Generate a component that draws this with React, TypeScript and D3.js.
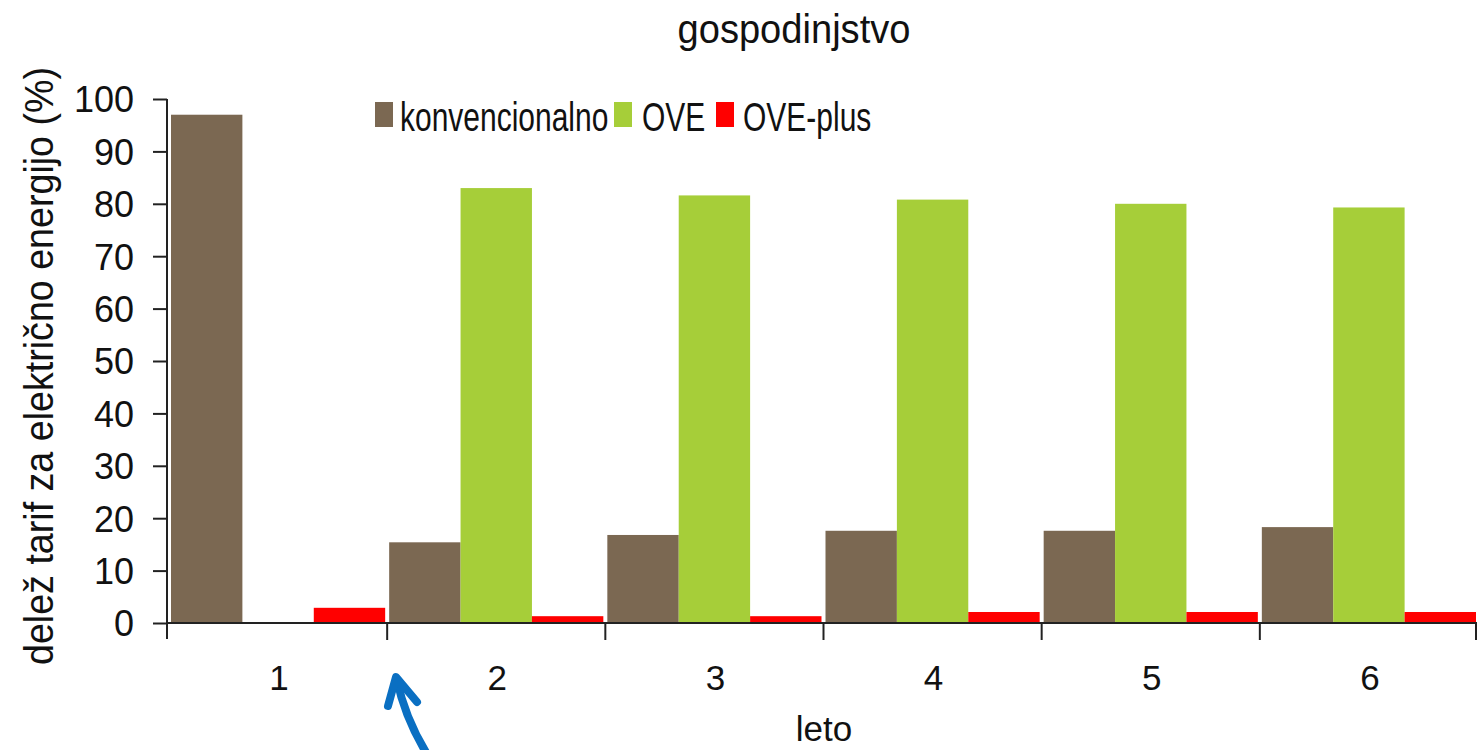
import React, { useEffect, useRef } from 'react';
import * as d3 from 'd3';

// data
const categories = ['1', '2', '3', '4', '5', '6'];
const konvencionalno = [97, 15.4, 16.8, 17.6, 17.6, 18.3];
const ove = [0, 83, 81.6, 80.8, 80.0, 79.3];
const ovePlus = [2.9, 1.3, 1.3, 2.1, 2.1, 2.1];
const seriesNames = ['konvencionalno', 'OVE', 'OVE-plus'];
const seriesColors = ['#7B6852', '#A6CE39', '#FF0000'];
const yTicks = [0, 10, 20, 30, 40, 50, 60, 70, 80, 90, 100];

const W = 1478;
const H = 750;
const FONT = '"Liberation Sans", Arial, sans-serif';

const App = () => {
  const ref = useRef<SVGSVGElement>(null);

  useEffect(() => {
    const svg = d3.select(ref.current);
    svg.selectAll('*').remove();

    const x = d3.scaleBand().domain(categories).range([168, 1477]).padding(0);
    const bw = x.bandwidth();
    const x1 = d3.scaleBand().domain(seriesNames).range([3, bw - 1]).padding(0);
    const y = d3.scaleLinear().domain([0, 100]).range([623, 99]);

    const rows = categories.map((c, i) => ({
      cat: c,
      vals: [konvencionalno[i], ove[i], ovePlus[i]],
    }));

    // bars
    const groups = svg.append('g').selectAll('g').data(rows).enter().append('g')
      .attr('transform', (d: any) => `translate(${x(d.cat)},0)`);
    groups.selectAll('rect')
      .data((d: any) => d.vals.map((v: number, k: number) => ({ v, k })))
      .enter().append('rect')
      .attr('x', (d: any) => x1(seriesNames[d.k]))
      .attr('width', x1.bandwidth())
      .attr('y', (d: any) => y(d.v))
      .attr('height', (d: any) => y(0) - y(d.v))
      .attr('fill', (d: any) => seriesColors[d.k]);

    // y axis
    const yAxis = svg.append('g')
      .attr('transform', 'translate(167,0)')
      .call(d3.axisLeft(y).tickValues(yTicks).tickSize(14).tickSizeOuter(0).tickPadding(19));
    yAxis.select('.domain').remove();
    yAxis.selectAll('line').attr('stroke', '#222').attr('stroke-width', 2);
    yAxis.selectAll('text')
      .attr('font-family', FONT).attr('font-size', 36).attr('fill', '#111')
      .attr('dy', '0.36em');
    svg.append('line')
      .attr('x1', 167).attr('x2', 167).attr('y1', y(100)).attr('y2', 639)
      .attr('stroke', '#222').attr('stroke-width', 2);

    // x axis
    const xr = x.range();
    svg.append('line')
      .attr('x1', 167).attr('x2', xr[1]).attr('y1', y(0)).attr('y2', y(0))
      .attr('stroke', '#222').attr('stroke-width', 2);
    const bounds = categories.slice(1).map(c => (x(c) as number) + 1).concat([xr[1] - 1]);
    svg.append('g').selectAll('line').data(bounds).enter().append('line')
      .attr('x1', (d: number) => d).attr('x2', (d: number) => d)
      .attr('y1', y(0)).attr('y2', 640)
      .attr('stroke', '#222').attr('stroke-width', 2);
    svg.append('g').selectAll('text').data(categories).enter().append('text')
      .attr('x', (d: string) => (x(d) as number) + bw / 2 + 2)
      .attr('y', 690)
      .attr('text-anchor', 'middle')
      .attr('font-family', FONT).attr('font-size', 35).attr('fill', '#111')
      .text((d: string) => d);

    // axis titles
    svg.append('text')
      .attr('x', 824).attr('y', 741)
      .attr('text-anchor', 'middle')
      .attr('font-family', FONT).attr('font-size', 35).attr('fill', '#111')
      .text('leto');
    svg.append('text')
      .attr('transform', 'translate(53,366) rotate(-90)')
      .attr('text-anchor', 'middle')
      .attr('font-family', FONT).attr('font-size', 40).attr('fill', '#111')
      .attr('textLength', 598).attr('lengthAdjust', 'spacingAndGlyphs')
      .text('delež tarif za električno energijo (%)');

    // title
    svg.append('text')
      .attr('x', 794).attr('y', 43)
      .attr('text-anchor', 'middle')
      .attr('font-family', FONT).attr('font-size', 40).attr('fill', '#111')
      .attr('textLength', 233).attr('lengthAdjust', 'spacingAndGlyphs')
      .text('gospodinjstvo');

    // legend (text is narrow and tall in the source, so stretch it vertically)
    const legendItems = [
      { sx: 375, tx: 400 },
      { sx: 614, tx: 642 },
      { sx: 716, tx: 743 },
    ];
    const leg = svg.append('g').selectAll('g').data(legendItems).enter().append('g');
    leg.append('rect')
      .attr('x', (d: any) => d.sx).attr('y', 102)
      .attr('width', 18).attr('height', 25)
      .attr('fill', (_: any, i: number) => seriesColors[i]);
    leg.append('text')
      .attr('transform', (d: any) => `translate(${d.tx},131) scale(1,1.33)`)
      .attr('font-family', FONT).attr('font-size', 30).attr('fill', '#111')
      .text((_: any, i: number) => seriesNames[i]);

    // blue annotation arrow
    const arrow = svg.append('g')
      .attr('fill', 'none').attr('stroke', '#0A6FC2')
      .attr('stroke-width', 8).attr('stroke-linecap', 'round').attr('stroke-linejoin', 'round');
    arrow.append('path').attr('d', 'M 427 754 Q 405 718 397 680');
    arrow.append('path').attr('d', 'M 388 706 L 396 677 L 417 702');
  }, []);

  return (
    <svg ref={ref} width={W} height={H}
      style={{ position: 'absolute', left: 0, top: 0, background: '#fff' }} />
  );
};

export default App;
